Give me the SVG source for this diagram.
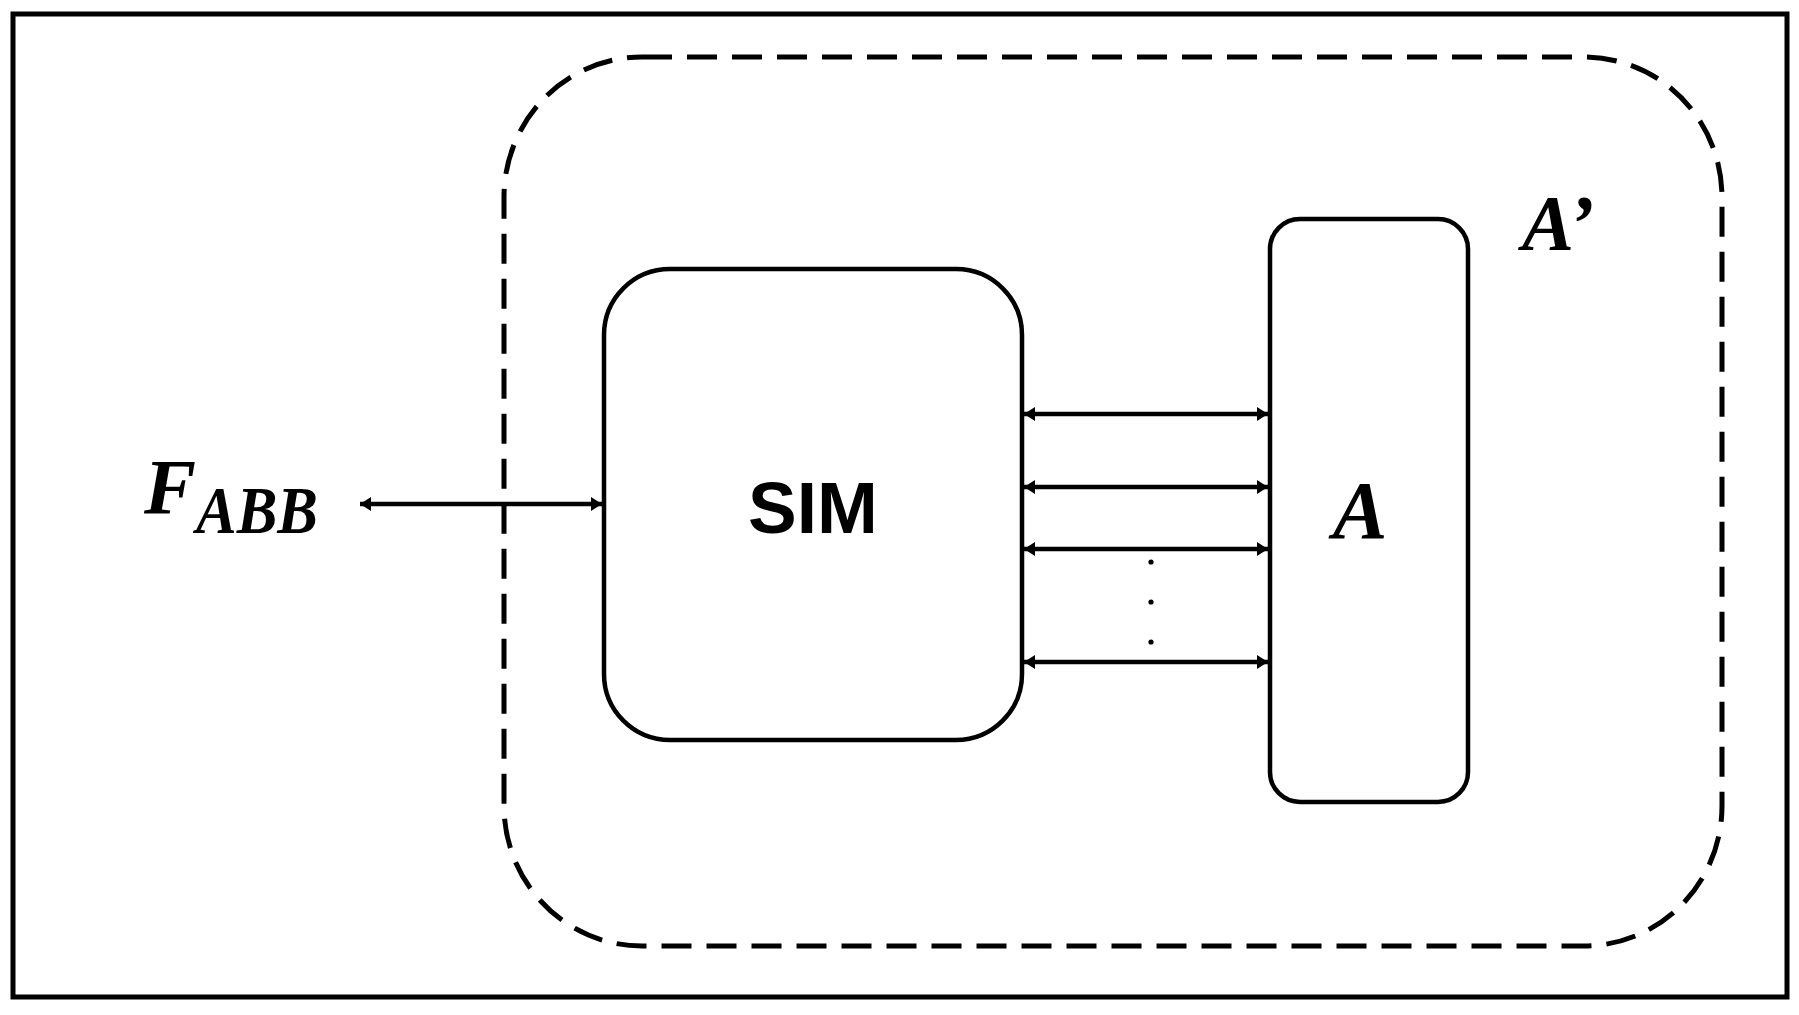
<svg xmlns="http://www.w3.org/2000/svg" width="1799" height="1015" viewBox="0 0 1799 1015">
  <style>
    .frame { fill: none; stroke: #000; stroke-width: 5; }
    .box { fill: #fff; stroke: #000; stroke-width: 4.5; }
    .dash { fill: none; stroke: #000; stroke-width: 5; stroke-dasharray: 30 15; }
    .conn { stroke: #000; stroke-width: 4.5; fill: none; marker-start: url(#ah); marker-end: url(#ah); }
    .math { font-family: "Liberation Serif", "DejaVu Serif", serif; font-style: italic; font-weight: bold; fill: #000; }
    .lbl { font-family: "Liberation Sans", Arial, sans-serif; font-weight: bold; fill: #000; }
  </style>
  <defs>
    <marker id="ah" markerUnits="userSpaceOnUse" markerWidth="11" markerHeight="14" refX="11" refY="7" orient="auto-start-reverse">
      <path d="M0,0 L11,7 L0,14 z" fill="#000"/>
    </marker>
  </defs>
  <rect width="1799" height="1015" fill="#fff"/>
  <rect class="frame" x="13" y="14" width="1774" height="983"/>
  <g id="Aprime">
    <rect class="dash" x="504" y="57" width="1218" height="889" rx="138" ry="140"/>
    <text class="math" x="1522" y="249" font-size="78">A’</text>
  </g>
  <g id="SIM">
    <rect class="box" x="604" y="269" width="418" height="471" rx="66" ry="66"/>
    <text class="lbl" x="813" y="533" font-size="73" text-anchor="middle">SIM</text>
  </g>
  <g id="A">
    <rect class="box" x="1270" y="219" width="198" height="583" rx="30" ry="30"/>
    <text class="math" x="1360" y="538" font-size="82" text-anchor="middle">A</text>
  </g>
  <g id="FABB">
    <text class="math" x="144" y="513" font-size="78">F</text>
    <text class="math" x="196" y="533" font-size="68" textLength="122" lengthAdjust="spacingAndGlyphs">ABB</text>
  </g>
  <g id="connectors">
    <line class="conn" x1="360" y1="504" x2="602" y2="504"/>
    <line class="conn" x1="1024" y1="414" x2="1268" y2="414"/>
    <line class="conn" x1="1024" y1="487" x2="1268" y2="487"/>
    <line class="conn" x1="1024" y1="549" x2="1268" y2="549"/>
    <line class="conn" x1="1024" y1="662" x2="1268" y2="662"/>
  </g>
  <g id="dots" fill="#000">
    <circle cx="1151" cy="562" r="2.6"/>
    <circle cx="1151" cy="602" r="2.6"/>
    <circle cx="1151" cy="642" r="2.6"/>
  </g>
</svg>
